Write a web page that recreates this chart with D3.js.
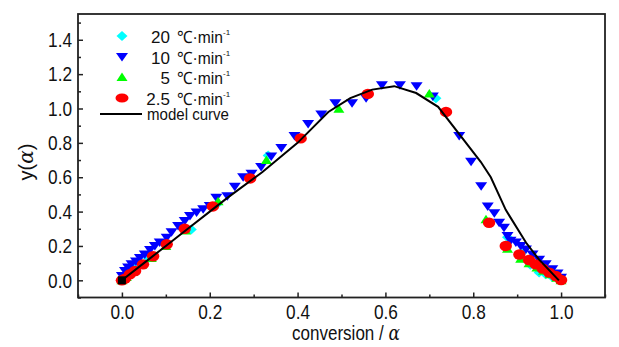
<!DOCTYPE html>
<html><head><meta charset="utf-8">
<script src="https://cdn.jsdelivr.net/npm/d3@7/dist/d3.min.js"></script>
<style>
body{margin:0;background:#fff;}
svg{display:block;}
text{font-family:"Liberation Sans",Arial,sans-serif;fill:#111;}
</style></head><body>
<svg id="chart" width="619" height="347"></svg>
<script>
// ---- data ----
const xTicks = [0.0, 0.2, 0.4, 0.6, 0.8, 1.0];
const xMinor = [-0.1, 0.1, 0.3, 0.5, 0.7, 0.9, 1.1];
const yTicks = [0.0, 0.2, 0.4, 0.6, 0.8, 1.0, 1.2, 1.4];
const yMinor = [-0.1, 0.1, 0.3, 0.5, 0.7, 0.9, 1.1, 1.3, 1.5];

const rate20_alpha = [0.0, 0.01, 0.03, 0.06, 0.10, 0.158, 0.215, 0.333, 0.715, 0.878, 0.91, 0.93, 0.95, 0.965, 0.98, 0.995];
const rate20_y     = [0.0, 0.025, 0.07, 0.13, 0.21, 0.296, 0.44, 0.727, 1.06, 0.25, 0.16, 0.09, 0.045, 0.035, 0.02, 0.005];

const rate10_alpha = [0.0, 0.007, 0.014, 0.022, 0.032, 0.041, 0.052, 0.064, 0.075, 0.086, 0.102, 0.113, 0.128, 0.143, 0.155, 0.17, 0.185, 0.2, 0.215, 0.24, 0.257, 0.276, 0.295, 0.317, 0.34, 0.363, 0.393, 0.424, 0.454, 0.486, 0.524, 0.556, 0.592, 0.633, 0.671, 0.708, 0.768, 0.795, 0.818, 0.833, 0.848, 0.859, 0.87, 0.878, 0.885, 0.897, 0.908, 0.92, 0.935, 0.95, 0.965, 0.98, 0.992, 1.0];
const rate10_y     = [0.025, 0.054, 0.074, 0.093, 0.11, 0.13, 0.15, 0.176, 0.2, 0.22, 0.248, 0.28, 0.316, 0.345, 0.374, 0.394, 0.413, 0.432, 0.48, 0.49, 0.545, 0.60, 0.62, 0.66, 0.72, 0.77, 0.84, 0.91, 0.965, 1.03, 1.03, 1.06, 1.135, 1.135, 1.13, 1.07, 0.84, 0.69, 0.548, 0.43, 0.39, 0.335, 0.306, 0.258, 0.23, 0.22, 0.2, 0.18, 0.15, 0.12, 0.093, 0.064, 0.04, 0.015];

const rate5_alpha = [0.0, 0.01, 0.025, 0.045, 0.067, 0.10, 0.145, 0.219, 0.329, 0.494, 0.70, 0.829, 0.878, 0.908, 0.927, 0.945, 0.96, 0.975, 0.99, 1.0];
const rate5_y     = [0.0, 0.02, 0.05, 0.09, 0.13, 0.2, 0.29, 0.46, 0.70, 0.998, 1.087, 0.355, 0.184, 0.126, 0.10, 0.075, 0.055, 0.035, 0.015, 0.0];

const rate25_alpha = [0.0, 0.007, 0.018, 0.03, 0.048, 0.071, 0.102, 0.143, 0.207, 0.292, 0.407, 0.56, 0.738, 0.836, 0.874, 0.905, 0.927, 0.942, 0.958, 0.973, 0.988, 1.0];
const rate25_y     = [0.0, 0.01, 0.035, 0.054, 0.093, 0.14, 0.21, 0.30, 0.43, 0.593, 0.826, 1.085, 0.98, 0.335, 0.2, 0.15, 0.118, 0.093, 0.068, 0.045, 0.025, 0.002];

const model_alpha = [0.0, 0.05, 0.10, 0.15, 0.20, 0.24, 0.32, 0.40, 0.47, 0.52, 0.57, 0.62, 0.67, 0.72, 0.817, 0.84, 0.874, 0.92, 0.95, 0.995];
const model_y     = [0.0, 0.10, 0.20, 0.30, 0.40, 0.48, 0.63, 0.80, 0.98, 1.06, 1.11, 1.13, 1.09, 1.01, 0.69, 0.60, 0.41, 0.22, 0.12, 0.0];

const legendNums = ["20", "10", "5", "2.5"];
const legendUnit = "℃·min";
const legendLabel = "model curve";

// ---- drawing ----
const svg = d3.select("#chart");
const L = 78, R = 605, T = 14, B = 297.5;
const x = d3.scaleLinear().domain([-0.1, 1.1]).range([L, R]);
const y = d3.scaleLinear().domain([-0.1, 1.55]).range([B, T]);

function squeeze(sel, f) {
  sel.each(function () {
    const w = this.getComputedTextLength();
    d3.select(this).attr("textLength", w * f).attr("lengthAdjust", "spacingAndGlyphs");
  });
}

// frame
svg.append("rect").attr("x", L).attr("y", T).attr("width", R - L).attr("height", B - T)
  .attr("fill", "none").attr("stroke", "#222").attr("stroke-width", 1.8);

// x axis
const xAxis = svg.append("g").attr("transform", `translate(0,${B})`)
  .call(d3.axisBottom(x).tickValues(xTicks).tickSizeInner(-5).tickSizeOuter(0).tickPadding(7).tickFormat(d3.format(".1f")));
xAxis.select(".domain").remove();
xAxis.selectAll("line").attr("stroke", "#222").attr("stroke-width", 1.5);
xAxis.selectAll("text").attr("font-size", 21).attr("font-family", null).style("fill", "#111").call(squeeze, 0.82);
const xMin = svg.append("g").attr("transform", `translate(0,${B})`)
  .call(d3.axisBottom(x).tickValues(xMinor).tickSizeInner(-3).tickSizeOuter(0).tickFormat(""));
xMin.select(".domain").remove();
xMin.selectAll("line").attr("stroke", "#222").attr("stroke-width", 1.5);

// y axis
const yAxis = svg.append("g").attr("transform", `translate(${L},0)`)
  .call(d3.axisLeft(y).tickValues(yTicks).tickSizeInner(-5).tickSizeOuter(0).tickPadding(6).tickFormat(d3.format(".1f")));
yAxis.select(".domain").remove();
yAxis.selectAll("line").attr("stroke", "#222").attr("stroke-width", 1.5);
yAxis.selectAll("text").attr("font-size", 21).attr("font-family", null).style("fill", "#111").call(squeeze, 0.82);
const yMin = svg.append("g").attr("transform", `translate(${L},0)`)
  .call(d3.axisLeft(y).tickValues(yMinor).tickSizeInner(-3).tickSizeOuter(0).tickFormat(""));
yMin.select(".domain").remove();
yMin.selectAll("line").attr("stroke", "#222").attr("stroke-width", 1.5);

// axis titles
const xt = svg.append("text").attr("x", 346).attr("y", 340).attr("text-anchor", "middle").attr("font-size", 20);
xt.append("tspan").text("conversion / ");
xt.append("tspan").attr("font-style", "italic").attr("font-family", "DejaVu Serif, serif").text("α");
xt.attr("textLength", 108).attr("lengthAdjust", "spacingAndGlyphs");
const yt = svg.append("text").attr("transform", "translate(33,162) rotate(-90)").attr("text-anchor", "middle").attr("font-size", 21);
yt.append("tspan").text("y(");
yt.append("tspan").attr("font-style", "italic").attr("font-family", "DejaVu Serif, serif").text("α");
yt.append("tspan").text(")");
yt.call(squeeze, 0.95);

// marker shapes
const sym = {
  diamond: (cx, cy) => `M${cx},${cy-5}L${cx+5.5},${cy}L${cx},${cy+5}L${cx-5.5},${cy}Z`,
  down: (cx, cy) => `M${cx-6},${cy-4}L${cx+6},${cy-4}L${cx},${cy+4.5}Z`,
  up: (cx, cy) => `M${cx-5.5},${cy+4}L${cx+5.5},${cy+4}L${cx},${cy-4.5}Z`
};
const series = [
  {a: rate20_alpha, v: rate20_y, color: "#00ffff", shape: "diamond"},
  {a: rate10_alpha, v: rate10_y, color: "#0000ff", shape: "down"},
  {a: rate5_alpha, v: rate5_y, color: "#00ff00", shape: "up"},
  {a: rate25_alpha, v: rate25_y, color: "#ff0000", shape: "ellipse"}
];
const gPts = svg.append("g");
series.forEach(s => {
  const pts = s.a.map((a, i) => [a, s.v[i]]);
  if (s.shape === "ellipse") {
    gPts.selectAll(null).data(pts).join("ellipse")
      .attr("cx", d => x(d[0])).attr("cy", d => y(d[1])).attr("rx", 6.2).attr("ry", 5.2).attr("fill", s.color);
  } else {
    gPts.selectAll(null).data(pts).join("path")
      .attr("d", d => sym[s.shape](x(d[0]), y(d[1]))).attr("fill", s.color);
  }
});

// model curve
const model = model_alpha.map((a, i) => [a, model_y[i]]);
svg.append("path").datum(model)
  .attr("d", d3.line().x(d => x(d[0])).y(d => y(d[1])))
  .attr("fill", "none").attr("stroke", "#000").attr("stroke-width", 2);
svg.append("rect").attr("x", x(model_alpha[0]) - 4).attr("y", y(model_y[0]) - 4).attr("width", 8).attr("height", 8).attr("fill", "#000");

// legend
const legY = [36, 57, 77, 98];
const lg = svg.append("g");
series.forEach((s, i) => {
  const cx = 122, cy = legY[i];
  if (s.shape === "ellipse") lg.append("ellipse").attr("cx", cx).attr("cy", cy).attr("rx", 6.5).attr("ry", 4.5).attr("fill", s.color);
  else lg.append("path").attr("d", sym[s.shape](cx, cy)).attr("fill", s.color);
  lg.append("text").attr("x", 170).attr("y", cy + 7).attr("text-anchor", "end").attr("font-size", 17).text(legendNums[i]);
  const t = lg.append("text").attr("x", 177).attr("y", cy + 7).attr("font-size", 17);
  t.append("tspan").attr("textLength", 46).attr("lengthAdjust", "spacingAndGlyphs").text(legendUnit);
  t.append("tspan").attr("dy", -8).attr("font-size", 8).text("-1");
});
lg.append("line").attr("x1", 100).attr("x2", 142).attr("y1", 114).attr("y2", 114).attr("stroke", "#000").attr("stroke-width", 2);
lg.append("text").attr("x", 147).attr("y", 120).attr("font-size", 17)
  .attr("textLength", 82).attr("lengthAdjust", "spacingAndGlyphs").text(legendLabel);
</script>
</body></html>
